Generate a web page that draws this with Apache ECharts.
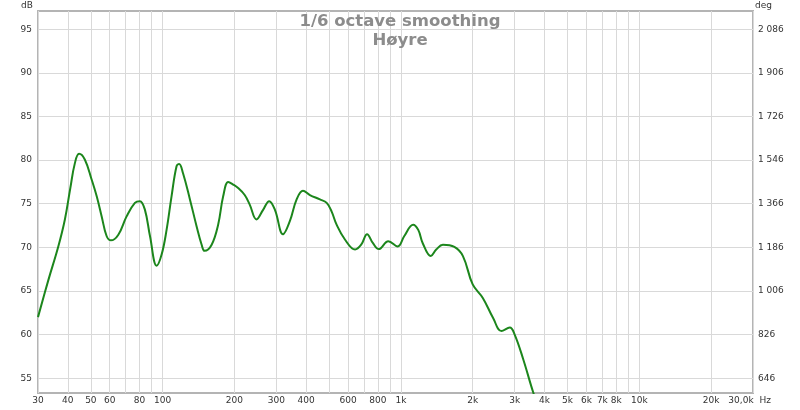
<!DOCTYPE html>
<html>
<head>
<meta charset="utf-8">
<script src="https://cdn.jsdelivr.net/npm/echarts@6/dist/echarts.min.js"></script>
<style>html,body{margin:0;padding:0;background:#fff}#c{width:800px;height:410px}</style>
</head>
<body>
<div id="c"></div>
<script>
// Frequency (Hz) and level (dB)
var freqHz = [30, 33.2, 36.5, 38.9, 41.0, 42.8, 44.6, 47.2, 50.4, 52.9, 55.5, 58.2, 60.7, 65.2, 70.6, 76.5, 80.3, 84.3, 88.5, 94.4, 99.1, 103.9, 109, 114.4, 117.3, 121.8, 130.2, 138.9, 145.8, 150, 160.6, 171, 179.5, 188.5, 197.8, 207.4, 221, 232, 247.6, 264, 280, 296, 320, 341.8, 365, 388, 415, 457, 488, 512, 537, 582, 642, 681, 721, 762, 807, 885, 969, 1033, 1125, 1182, 1233, 1335, 1406, 1500, 1675, 1820, 2000, 2205, 2436, 2640, 2862, 3000, 3256, 3590, 3800];
var levelDb = [62.0, 66.3, 70.1, 73.2, 76.8, 79.6, 80.73, 80.05, 77.75, 75.85, 73.55, 71.3, 70.8, 71.45, 73.55, 75.1, 75.3, 74.3, 71.3, 67.9, 69.2, 72.0, 75.85, 79.3, 79.55, 78.5, 75.5, 72.4, 70.3, 69.6, 70.3, 72.6, 75.85, 77.5, 77.2, 76.8, 76.0, 74.9, 73.2, 74.3, 75.3, 74.3, 71.5, 73.0, 75.5, 76.5, 76.0, 75.5, 75.1, 74.1, 72.6, 70.9, 69.75, 70.3, 71.5, 70.5, 69.8, 70.7, 70.1, 71.3, 72.6, 72.0, 70.5, 69.0, 69.75, 70.3, 70.05, 69.0, 65.75, 64.2, 61.9, 60.4, 60.8, 60.0, 57.2, 53.35, 51.5];

// Axis ticks
var xGridValues = [30, 40, 50, 60, 70, 80, 90, 100, 200, 300, 400, 500, 600, 700, 800, 900, 1000, 2000, 3000, 4000, 5000, 6000, 7000, 8000, 9000, 10000, 20000, 30000];
var xLabelValues = [30, 40, 50, 60, 80, 100, 200, 300, 400, 600, 800, 1000, 2000, 3000, 4000, 5000, 6000, 7000, 8000, 10000, 20000, 30000];
var xLabelTexts = ['30', '40', '50', '60', '80', '100', '200', '300', '400', '600', '800', '1k', '2k', '3k', '4k', '5k', '6k', '7k', '8k', '10k', '20k', '30,0k'];
var dbTicks = [55, 60, 65, 70, 75, 80, 85, 90, 95];
var degTicks = [646, 826, 1006, 1186, 1366, 1546, 1726, 1906, 2086];

var dbMin = 53.3, dbMax = 97.1;
function dbToDeg(d) { return 646 + (d - 55) * 36; }

var seriesData = freqHz.map(function (f, i) { return [f, levelDb[i]]; });

var labelFont = 'DejaVu Sans';
var chart = echarts.init(document.getElementById('c'), null, { renderer: 'canvas' });
chart.setOption({
  animation: false,
  backgroundColor: '#ffffff',
  title: {
    text: '1/6 octave smoothing\nHøyre',
    left: 'center',
    top: 7,
    textStyle: { color: '#8c8c8c', fontFamily: labelFont, fontWeight: 'bold', fontSize: 16.5, lineHeight: 19, align: 'center' }
  },
  grid: {
    left: 38, right: 47, top: 11, bottom: 17,
    show: true, borderColor: '#b4b4b4', borderWidth: 2,
    outerBoundsMode: 'none', containLabel: false
  },
  xAxis: {
    type: 'log', logBase: 10, min: 30, max: 30000,
    name: 'Hz', nameLocation: 'end', nameGap: 5,
    nameTextStyle: { color: '#333', fontFamily: labelFont, fontSize: 9, verticalAlign: 'top', padding: [3, 0, 0, 0] },
    axisLine: { show: false },
    axisTick: { show: false, customValues: xGridValues },
    splitLine: { show: true, lineStyle: { color: '#d9d9d9', width: 1 } },
    minorSplitLine: { show: false },
    axisLabel: {
      customValues: xLabelValues,
      margin: 3,
      color: '#333', fontFamily: labelFont, fontSize: 9,
      formatter: function (v) {
        var i = xLabelValues.indexOf(Math.round(v));
        if (i < 0) return '';
        if (i === xLabelValues.length - 1) return '{e|' + xLabelTexts[i] + '}';
        return xLabelTexts[i];
      },
      rich: { e: { color: '#333', fontFamily: labelFont, fontSize: 9, padding: [0, 24, 0, 0] } }
    }
  },
  yAxis: [{
    type: 'value', min: dbMin, max: dbMax,
    name: 'dB', nameLocation: 'end', nameGap: 1,
    nameTextStyle: { color: '#333', fontFamily: labelFont, fontSize: 9, align: 'right', padding: [0, 5, 0, 0] },
    axisLine: { show: false },
    axisTick: { show: false, customValues: dbTicks },
    splitLine: { show: true, lineStyle: { color: '#d9d9d9', width: 1 } },
    axisLabel: { customValues: dbTicks, margin: 6, color: '#333', fontFamily: labelFont, fontSize: 9 }
  }, {
    type: 'value', min: dbToDeg(dbMin), max: dbToDeg(dbMax), position: 'right',
    name: 'deg', nameLocation: 'end', nameGap: 1,
    nameTextStyle: { color: '#333', fontFamily: labelFont, fontSize: 9, align: 'left', padding: [0, 0, 0, 2] },
    axisLine: { show: false },
    axisTick: { show: false, customValues: degTicks },
    splitLine: { show: false },
    axisLabel: {
      customValues: degTicks, margin: 5, color: '#333', fontFamily: labelFont, fontSize: 9,
      formatter: function (v) { return String(Math.round(v)).replace(/\B(?=(\d{3})+(?!\d))/g, ' '); }
    }
  }],
  series: [{
    type: 'line',
    data: seriesData,
    xAxisIndex: 0, yAxisIndex: 0,
    smooth: 0.4,
    showSymbol: false,
    clip: true,
    lineStyle: { color: '#1c861c', width: 2 },
    itemStyle: { color: '#1c861c' }
  }]
});
</script>
</body>
</html>
